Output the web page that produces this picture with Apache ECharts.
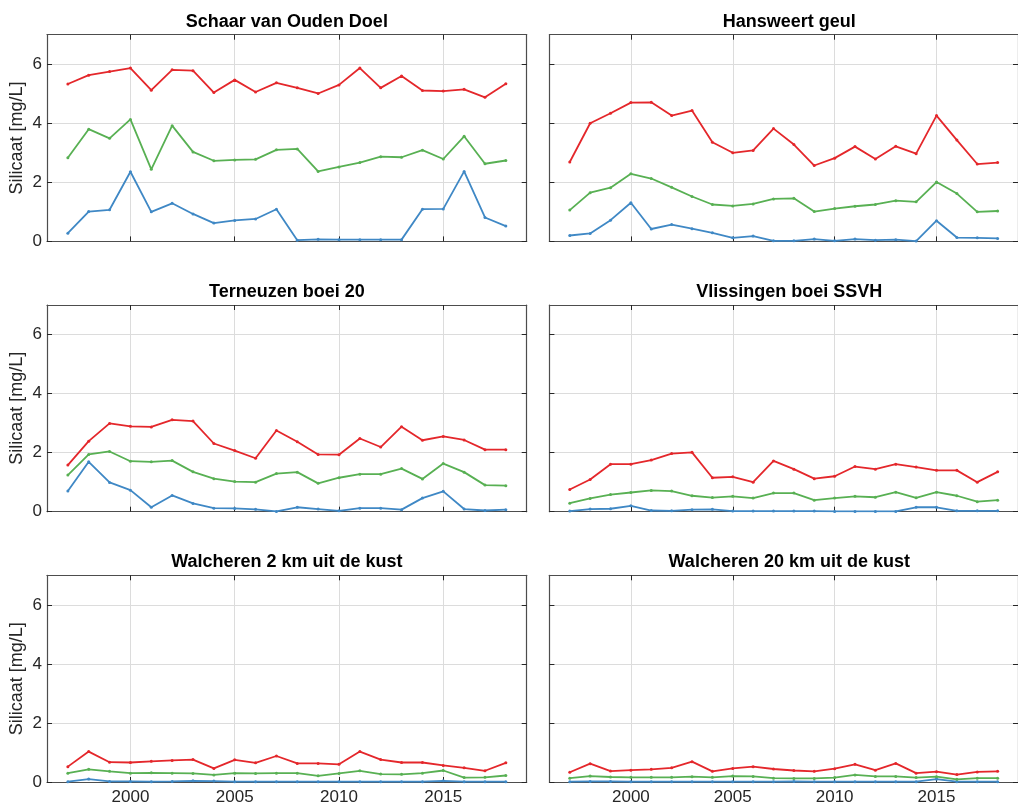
<!DOCTYPE html>
<html>
<head>
<meta charset="utf-8">
<title>Silicaat</title>
<script src="https://cdn.jsdelivr.net/npm/echarts@6/dist/echarts.min.js"></script>
<style>
  html, body { margin: 0; padding: 0; background: #ffffff; }
  #chart { width: 1018px; height: 807px; }
</style>
</head>
<body>
<div id="chart"></div>
<script>
// Sampling years and axis ticks
const years = [1997, 1998, 1999, 2000, 2001, 2002, 2003, 2004, 2005, 2006, 2007,
               2008, 2009, 2010, 2011, 2012, 2013, 2014, 2015, 2016, 2017, 2018];
const xTicks = [2000, 2005, 2010, 2015];
const yTicks = [0, 2, 4, 6];

// Station names (panel titles)
const stationNames = [
  'Schaar van Ouden Doel', 'Hansweert geul',
  'Terneuzen boei 20', 'Vlissingen boei SSVH',
  'Walcheren 2 km uit de kust', 'Walcheren 20 km uit de kust'
];

// Silicaat [mg/L] per station: high (red), middle (green), low (blue)
const schaarHigh = [5.33, 5.63, 5.75, 5.87, 5.12, 5.81, 5.78, 5.04, 5.47, 5.06, 5.37, 5.20, 5.01, 5.30, 5.87, 5.20, 5.60, 5.11, 5.09, 5.15, 4.88, 5.34];
const schaarMid  = [2.83, 3.80, 3.49, 4.13, 2.44, 3.92, 3.03, 2.73, 2.76, 2.78, 3.10, 3.13, 2.37, 2.52, 2.67, 2.87, 2.85, 3.09, 2.79, 3.56, 2.63, 2.74];
const schaarLow  = [0.28, 1.01, 1.07, 2.36, 1.00, 1.29, 0.93, 0.62, 0.71, 0.76, 1.09, 0.04, 0.07, 0.06, 0.06, 0.06, 0.06, 1.09, 1.10, 2.37, 0.81, 0.52];

const hansweertHigh = [2.69, 4.00, 4.34, 4.70, 4.71, 4.26, 4.43, 3.36, 3.00, 3.08, 3.82, 3.28, 2.57, 2.82, 3.21, 2.79, 3.22, 2.97, 4.26, 3.43, 2.62, 2.67];
const hansweertMid  = [1.06, 1.65, 1.82, 2.29, 2.13, 1.83, 1.52, 1.25, 1.20, 1.27, 1.44, 1.46, 1.01, 1.11, 1.19, 1.25, 1.38, 1.34, 2.01, 1.62, 1.00, 1.03];
const hansweertLow  = [0.20, 0.27, 0.72, 1.31, 0.42, 0.57, 0.43, 0.29, 0.12, 0.18, 0.02, 0.02, 0.08, 0.02, 0.08, 0.04, 0.06, 0.01, 0.70, 0.13, 0.12, 0.10];

const terneuzenHigh = [1.58, 2.39, 2.99, 2.89, 2.87, 3.11, 3.07, 2.31, 2.07, 1.81, 2.75, 2.37, 1.94, 1.93, 2.48, 2.19, 2.88, 2.42, 2.55, 2.43, 2.10, 2.10];
const terneuzenMid  = [1.24, 1.94, 2.04, 1.71, 1.69, 1.73, 1.35, 1.12, 1.02, 1.00, 1.29, 1.34, 0.96, 1.15, 1.27, 1.27, 1.46, 1.11, 1.63, 1.34, 0.90, 0.88];
const terneuzenLow  = [0.70, 1.69, 0.99, 0.73, 0.15, 0.55, 0.28, 0.12, 0.11, 0.08, 0.01, 0.15, 0.09, 0.03, 0.12, 0.12, 0.07, 0.46, 0.69, 0.09, 0.04, 0.07];

const vlissingenHigh = [0.75, 1.09, 1.61, 1.61, 1.75, 1.97, 2.01, 1.15, 1.18, 1.00, 1.72, 1.44, 1.12, 1.20, 1.53, 1.44, 1.61, 1.51, 1.40, 1.40, 1.00, 1.35];
const vlissingenMid  = [0.29, 0.45, 0.58, 0.65, 0.72, 0.70, 0.54, 0.48, 0.52, 0.46, 0.63, 0.63, 0.39, 0.46, 0.52, 0.49, 0.66, 0.47, 0.66, 0.54, 0.34, 0.39];
const vlissingenLow  = [0.02, 0.09, 0.10, 0.20, 0.04, 0.03, 0.07, 0.08, 0.02, 0.02, 0.02, 0.02, 0.02, 0.01, 0.01, 0.01, 0.01, 0.15, 0.15, 0.03, 0.03, 0.03];

const walcheren2High = [0.52, 1.03, 0.67, 0.66, 0.70, 0.73, 0.76, 0.46, 0.75, 0.65, 0.88, 0.63, 0.63, 0.60, 1.03, 0.76, 0.66, 0.66, 0.56, 0.48, 0.38, 0.65];
const walcheren2Mid  = [0.30, 0.43, 0.36, 0.30, 0.31, 0.30, 0.29, 0.24, 0.30, 0.29, 0.30, 0.30, 0.21, 0.29, 0.38, 0.27, 0.26, 0.30, 0.39, 0.15, 0.16, 0.22];
const walcheren2Low  = [0.01, 0.10, 0.02, 0.02, 0.01, 0.02, 0.04, 0.03, 0.01, 0.01, 0.01, 0.01, 0.01, 0.01, 0.01, 0.01, 0.01, 0.01, 0.04, 0.01, 0.01, 0.01];

const walcheren20High = [0.33, 0.62, 0.37, 0.40, 0.43, 0.48, 0.69, 0.36, 0.46, 0.52, 0.44, 0.39, 0.36, 0.45, 0.60, 0.40, 0.63, 0.30, 0.35, 0.25, 0.34, 0.36];
const walcheren20Mid  = [0.13, 0.20, 0.17, 0.16, 0.16, 0.16, 0.18, 0.16, 0.20, 0.19, 0.13, 0.12, 0.12, 0.15, 0.24, 0.19, 0.19, 0.15, 0.18, 0.09, 0.13, 0.13];
const walcheren20Low  = [0.01, 0.02, 0.02, 0.01, 0.01, 0.01, 0.01, 0.01, 0.01, 0.01, 0.01, 0.02, 0.01, 0.01, 0.01, 0.01, 0.01, 0.01, 0.10, 0.01, 0.01, 0.01];

const panelValues = [
  [schaarHigh, schaarMid, schaarLow],
  [hansweertHigh, hansweertMid, hansweertLow],
  [terneuzenHigh, terneuzenMid, terneuzenLow],
  [vlissingenHigh, vlissingenMid, vlissingenLow],
  [walcheren2High, walcheren2Mid, walcheren2Low],
  [walcheren20High, walcheren20Mid, walcheren20Low]
];

// Styling
const lineColors = ['#e4272b', '#58b053', '#3f88c5'];
const textColor = '#262626';
const frameColor = '#4d4d4d';
const gridColor = '#dcdcdc';
const fontFamily = '"Liberation Sans", Arial, Helvetica, sans-serif';

// Panel layout (3 rows x 2 columns)
const colLeft = [47, 549.4];
const panelWidth = 479.7;
const rowTop = [34.7, 305.0, 575.3];
const panelHeight = 206.7;

const grids = [], xAxes = [], yAxes = [], series = [], graphics = [];

panelValues.forEach((vals, i) => {
  const row = Math.floor(i / 2), col = i % 2;
  const left = colLeft[col], top = rowTop[row];
  grids.push({ left: left, top: top, width: panelWidth, height: panelHeight, containLabel: false });

  const xBase = {
    type: 'value', gridIndex: i, min: 1996, max: 2019, splitNumber: 5,
    axisLine: { show: true, onZero: false, lineStyle: { color: frameColor, width: 1.2 } },
    axisTick: { show: true, inside: true, length: 5, customValues: xTicks, lineStyle: { color: textColor, width: 1 } }
  };
  xAxes.push(Object.assign({}, xBase, {
    position: 'bottom',
    axisLabel: {
      show: row === 2, customValues: xTicks, color: textColor, fontSize: 17,
      fontFamily: fontFamily, margin: 7, formatter: v => String(v)
    },
    splitLine: { show: true, lineStyle: { color: gridColor, width: 1 } }
  }));
  xAxes.push(Object.assign({}, xBase, {
    position: 'top',
    axisLabel: { show: false },
    splitLine: { show: false }
  }));

  const yBase = {
    type: 'value', gridIndex: i, min: 0, max: 7, interval: 2,
    axisLine: { show: true, onZero: false, lineStyle: { color: frameColor, width: 1.2 } },
    axisTick: { show: true, inside: true, length: 5, customValues: yTicks, lineStyle: { color: textColor, width: 1 } }
  };
  yAxes.push(Object.assign({}, yBase, {
    position: 'left',
    name: col === 0 ? 'Silicaat [mg/L]' : '',
    nameLocation: 'middle',
    nameGap: 21,
    nameTextStyle: { color: textColor, fontSize: 18, fontFamily: fontFamily },
    axisLabel: { show: col === 0, customValues: yTicks, color: textColor, fontSize: 17, fontFamily: fontFamily, margin: 5 },
    splitLine: { show: true, lineStyle: { color: gridColor, width: 1 } }
  }));
  yAxes.push(Object.assign({}, yBase, {
    position: 'right',
    axisLabel: { show: false },
    splitLine: { show: false }
  }));

  vals.forEach((v, k) => {
    series.push({
      type: 'line',
      xAxisIndex: 2 * i,
      yAxisIndex: 2 * i,
      data: years.map((yr, j) => [yr, v[j]]),
      symbol: 'circle',
      symbolSize: 3,
      showSymbol: true,
      color: lineColors[k],
      lineStyle: { color: lineColors[k], width: 1.8 },
      itemStyle: { color: lineColors[k] },
      z: 3 + (2 - k),
      silent: true
    });
  });

  graphics.push({
    type: 'text',
    x: left + panelWidth / 2,
    y: top - 13,
    style: {
      text: stationNames[i],
      fill: '#000000',
      font: 'bold 18px ' + fontFamily,
      textAlign: 'center',
      textVerticalAlign: 'middle'
    },
    silent: true
  });
});

const chart = echarts.init(document.getElementById('chart'), null, { renderer: 'canvas' });
chart.setOption({
  animation: false,
  backgroundColor: '#ffffff',
  grid: grids,
  xAxis: xAxes,
  yAxis: yAxes,
  series: series,
  graphic: graphics
});
</script>
</body>
</html>
